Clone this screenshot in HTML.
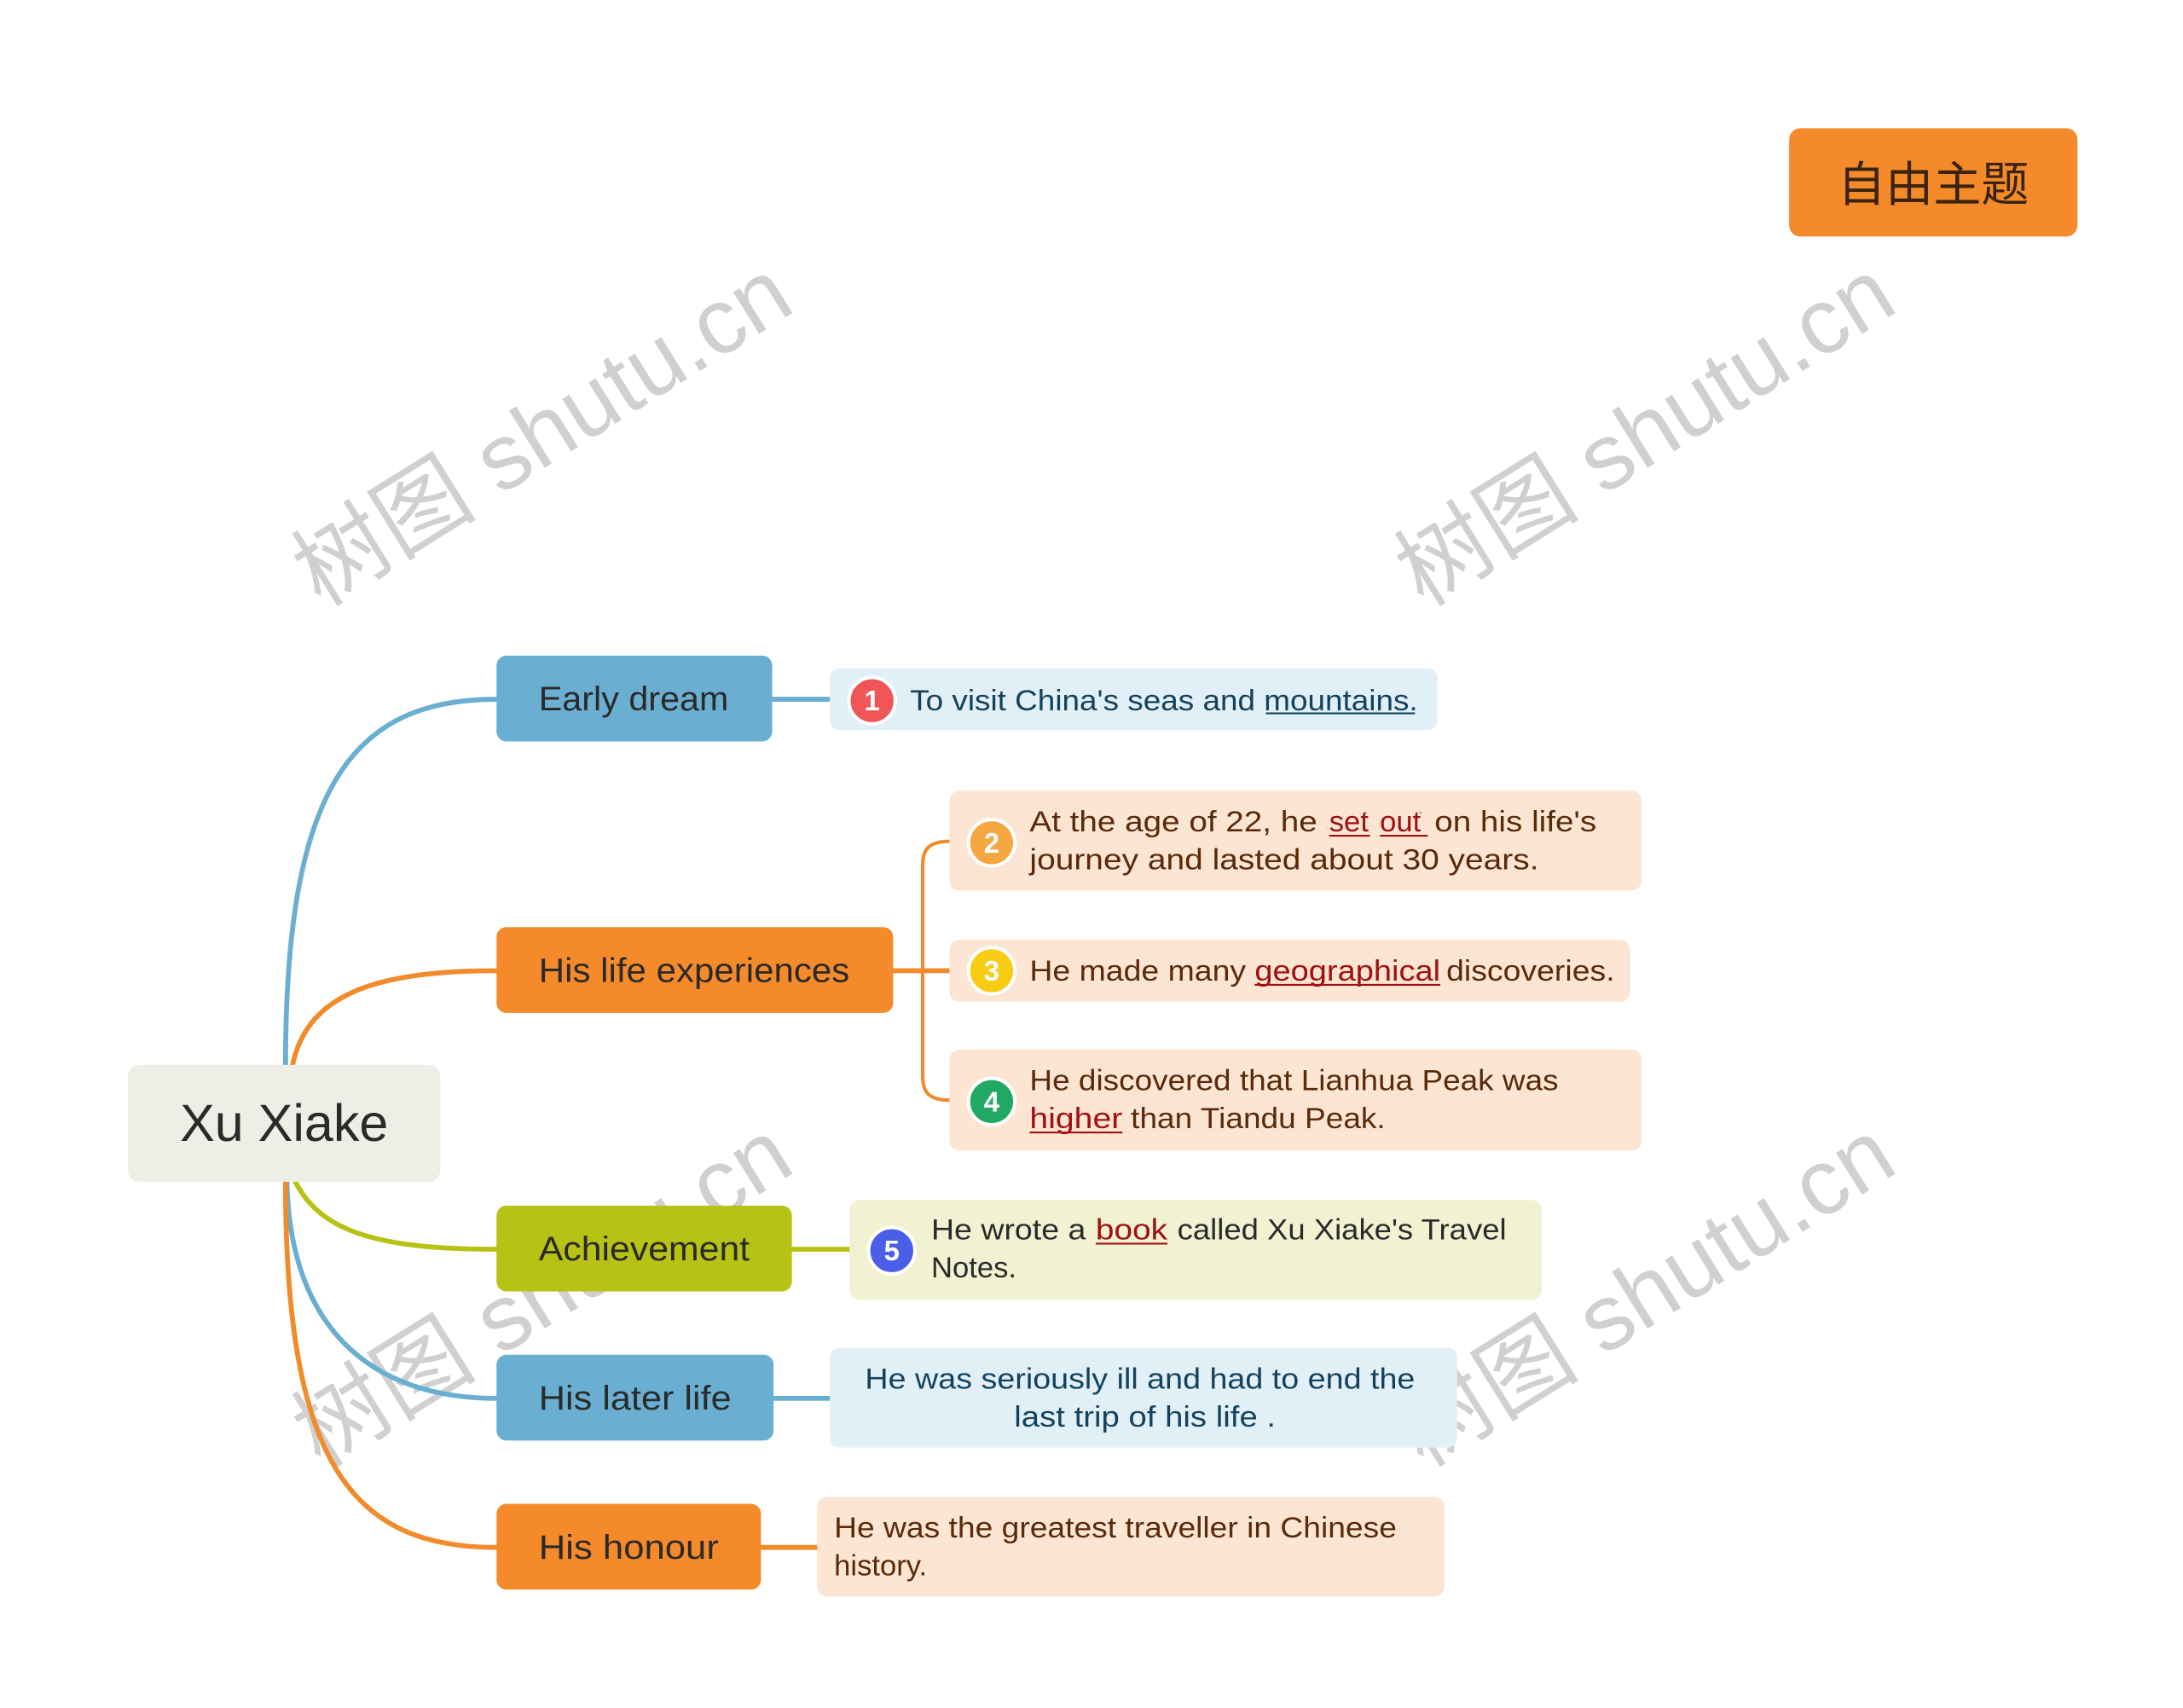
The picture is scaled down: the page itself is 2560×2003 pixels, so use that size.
<!DOCTYPE html>
<html><head><meta charset="utf-8"><style>
html,body{margin:0;padding:0;background:#fff;}
svg{display:block;}
text{font-family:"Liberation Sans","Noto Sans CJK SC",sans-serif;}
</style></head><body>
<svg width="2560" height="2003" viewBox="0 0 1552 1214" xmlns="http://www.w3.org/2000/svg">
<rect width="1552" height="1214" fill="#fff"/>

<!-- watermarks -->
<g fill="#d0d0d0" font-size="66" font-family="Liberation Serif, Noto Serif CJK SC, serif">
<text x="0" y="0" transform="translate(228,432) rotate(-32)">树图 shutu.cn</text>
<text x="0" y="0" transform="translate(1012,432) rotate(-32)">树图 shutu.cn</text>
<text x="0" y="0" transform="translate(228,1044) rotate(-32)">树图 shutu.cn</text>
<text x="0" y="0" transform="translate(1012,1044) rotate(-32)">树图 shutu.cn</text>
</g>

<!-- connectors -->
<g fill="none" stroke-width="3.5" stroke-linecap="round">
<path d="M203,757 C203,560 250,497 353,497" stroke="#6aafd1"/>
<path d="M208,757 C218,710 260,690 353,690" stroke="#f28b2c"/>
<path d="M210,840 C228,876 270,888 353,888" stroke="#b8c214"/>
<path d="M204,840 C206,940 260,994 353,994" stroke="#6aafd1"/>
<path d="M203,840 C203,1040 250,1100 353,1100" stroke="#f28b2c"/>
<path d="M549,497 L590,497" stroke="#6aafd1"/>
<path d="M635,690 L675,690" stroke="#f28b2c"/>
<path d="M675,598 C660,598 656,604 656,615 L656,765 C656,776 660,782 675,782" stroke="#f28b2c" stroke-width="2.5"/>
<path d="M563,888 L604,888" stroke="#b8c214"/>
<path d="M550,994 L590,994" stroke="#6aafd1"/>
<path d="M541,1100 L581,1100" stroke="#f28b2c"/>
</g>

<!-- root -->
<rect x="91" y="757" width="222" height="83" rx="8" fill="#efeee6"/>
<text x="202" y="811" font-size="37" fill="#2a2a2a" text-anchor="middle">Xu Xiake</text>

<!-- topic -->
<rect x="1272" y="91" width="205" height="77" rx="8" fill="#f58a2b"/>
<text x="1374.5" y="143" font-size="34" fill="#3a2410" text-anchor="middle">自由主题</text>

<!-- branches -->
<g font-size="24" fill="#2a2a2a">
<rect x="353" y="466" width="196" height="61" rx="7" fill="#6aafd1"/>
<text x="383" y="505" textLength="135" lengthAdjust="spacingAndGlyphs">Early dream</text>
<rect x="353" y="659" width="282" height="61" rx="7" fill="#f58a2b"/>
<text x="383" y="698" textLength="221" lengthAdjust="spacingAndGlyphs">His life experiences</text>
<rect x="353" y="857" width="210" height="61" rx="7" fill="#b8c214"/>
<text x="383" y="896" textLength="150" lengthAdjust="spacingAndGlyphs">Achievement</text>
<rect x="353" y="963" width="197" height="61" rx="7" fill="#6aafd1"/>
<text x="383" y="1002" textLength="137" lengthAdjust="spacingAndGlyphs">His later life</text>
<rect x="353" y="1069" width="188" height="61" rx="7" fill="#f58a2b"/>
<text x="383" y="1108" textLength="128" lengthAdjust="spacingAndGlyphs">His honour</text>
</g>

<!-- leaves -->
<g font-size="21">
<rect x="590" y="475" width="432" height="44" rx="7" fill="#e1f0f7"/>
<text x="647" y="505" fill="#14425e" textLength="361" lengthAdjust="spacingAndGlyphs">To visit China's seas and mountains.</text>
<line x1="900" y1="507" x2="1006" y2="507" stroke="#14425e" stroke-width="1.3"/>

<rect x="675" y="562" width="492" height="71" rx="7" fill="#fde5d3"/>
<text x="732" y="591" fill="#5a2a0a" textLength="403" lengthAdjust="spacingAndGlyphs">At the age  of 22, he set out on his life's</text>
<text x="732" y="618" fill="#5a2a0a" textLength="362" lengthAdjust="spacingAndGlyphs">journey  and lasted about  30 years.</text>
<rect x="944" y="578" width="72" height="16" fill="#fde5d3"/>
<text x="945" y="591" fill="#a01010">set</text><text x="981" y="591" fill="#a01010">out</text>
<line x1="945" y1="594" x2="974" y2="594" stroke="#a01010" stroke-width="1.3"/>
<line x1="981" y1="594" x2="1015" y2="594" stroke="#a01010" stroke-width="1.3"/>

<rect x="675" y="668" width="484" height="44" rx="7" fill="#fde5d3"/>
<text x="732" y="697" fill="#5a2a0a" textLength="416" lengthAdjust="spacingAndGlyphs">He made many geographical discoveries.</text>
<rect x="891" y="675" width="135" height="30" fill="#fde5d3"/>
<text x="892" y="697" fill="#a01010" textLength="132" lengthAdjust="spacingAndGlyphs">geographical</text>
<line x1="892" y1="700" x2="1024" y2="700" stroke="#a01010" stroke-width="1.3"/>

<rect x="675" y="746" width="492" height="72" rx="7" fill="#fde5d3"/>
<text x="732" y="775" fill="#5a2a0a" textLength="376" lengthAdjust="spacingAndGlyphs">He discovered that Lianhua Peak was</text>
<text x="732" y="802" fill="#a01010" textLength="66" lengthAdjust="spacingAndGlyphs">higher</text>
<text x="804" y="802" fill="#5a2a0a" textLength="181" lengthAdjust="spacingAndGlyphs">than Tiandu Peak.</text>
<line x1="732" y1="805" x2="798" y2="805" stroke="#a01010" stroke-width="1.3"/>

<rect x="604" y="853" width="492" height="71" rx="7" fill="#f1f2d2"/>
<text x="662" y="881" fill="#2a2a2a" textLength="110" lengthAdjust="spacingAndGlyphs">He wrote a</text>
<text x="779" y="881" fill="#a01010" textLength="51" lengthAdjust="spacingAndGlyphs">book</text>
<text x="837" y="881" fill="#2a2a2a" textLength="234" lengthAdjust="spacingAndGlyphs">called Xu Xiake's Travel</text>
<text x="662" y="908" fill="#2a2a2a">Notes.</text>
<line x1="779" y1="884" x2="830" y2="884" stroke="#a01010" stroke-width="1.3"/>

<rect x="590" y="958" width="446" height="71" rx="7" fill="#e1f0f7"/>
<text x="615" y="987" fill="#14425e" textLength="391" lengthAdjust="spacingAndGlyphs">He was seriously ill and had to end the</text>
<text x="721" y="1014" fill="#14425e" textLength="186" lengthAdjust="spacingAndGlyphs">last trip of his life .</text>

<rect x="581" y="1064" width="446" height="71" rx="7" fill="#fde5d3"/>
<text x="593" y="1093" fill="#5a2a0a" textLength="400" lengthAdjust="spacingAndGlyphs">He was the greatest traveller in Chinese</text>
<text x="593" y="1120" fill="#5a2a0a">history.</text>
</g>

<!-- badges -->
<g font-size="20" font-weight="bold" fill="#fff" text-anchor="middle" stroke-width="2.5">
<circle cx="620" cy="498" r="16.5" fill="#f05557" stroke="#fff"/><text x="620" y="505">1</text>
<circle cx="705" cy="599" r="16.5" fill="#f5a742" stroke="#fff"/><text x="705" y="606">2</text>
<circle cx="705" cy="690" r="16.5" fill="#f7cc12" stroke="#fff"/><text x="705" y="697">3</text>
<circle cx="705" cy="783" r="16.5" fill="#21a864" stroke="#fff"/><text x="705" y="790">4</text>
<circle cx="634" cy="889" r="16.5" fill="#4a5ee8" stroke="#fff"/><text x="634" y="896">5</text>
</g>
</svg>
</body></html>
